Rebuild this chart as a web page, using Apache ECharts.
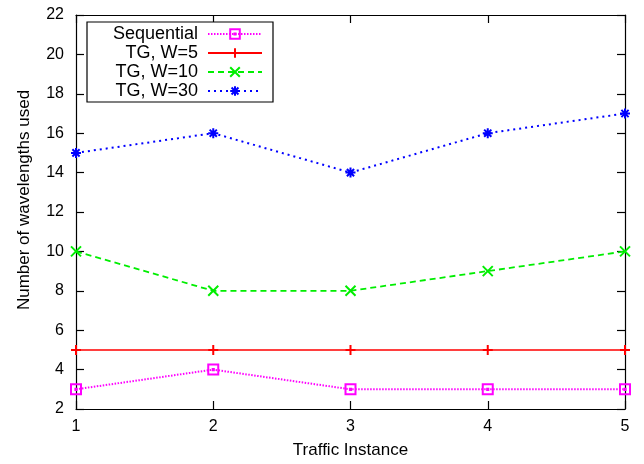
<!DOCTYPE html>
<html>
<head>
<meta charset="utf-8">
<script src="https://cdn.jsdelivr.net/npm/echarts@6/dist/echarts.min.js"></script>
<style>
html,body{margin:0;padding:0;background:#fff;}
#chart{width:644px;height:464px;}
</style>
</head>
<body>
<div id="chart"></div>
<script>
var xValues = [1, 2, 3, 4, 5];
var sequential = [3, 4, 3, 3, 3];
var tgW5 = [5, 5, 5, 5, 5];
var tgW10 = [10, 8, 8, 9, 10];
var tgW30 = [15, 16, 14, 16, 17];
var seriesNames = ['Sequential', 'TG, W=5', 'TG, W=10', 'TG, W=30'];
var xTitle = 'Traffic Instance';
var yTitle = 'Number of wavelengths used';

function pairs(vals) { return xValues.map(function (x, i) { return [x, vals[i]]; }); }

var FONT = '"Liberation Sans", Arial, Helvetica, sans-serif';
var symSquare = 'path://M-5,-5L5,-5L5,5L-5,5Z M-0.6,-0.6L0.6,-0.6L0.6,0.6L-0.6,0.6Z';
var symPlus = 'path://M0,-5L0,5M-5,0L5,0';
var symCross = 'path://M-5,-5L5,5M-5,5L5,-5';
var symStar = 'path://M0,-5L0,5M-5,0L5,0M-3.6,-3.6L3.6,3.6M-3.6,3.6L3.6,-3.6';

function mkSeries(name, vals, color, sym, dash, width) {
  return {
    name: name, type: 'line', data: pairs(vals),
    symbol: sym, symbolSize: 10, showSymbol: true,
    lineStyle: { color: color, width: width, type: dash },
    itemStyle: { color: 'transparent', borderColor: color, borderWidth: 2 },
    emphasis: { disabled: true },
    animation: false, z: 3
  };
}

var axisCommon = {
  type: 'value',
  axisLine: { show: true, onZero: false, lineStyle: { color: '#000', width: 1.2 } },
  axisTick: { show: true, inside: true, length: 8, lineStyle: { color: '#000', width: 1.2 } },
  splitLine: { show: false }
};

var chart = echarts.init(document.getElementById('chart'), null, { renderer: 'canvas' });
chart.setOption({
  backgroundColor: '#fff',
  animation: false,
  textStyle: { fontFamily: FONT },
  grid: { left: 76, right: 19, top: 15, bottom: 54, containLabel: false },
  xAxis: [
    Object.assign({}, axisCommon, {
      position: 'bottom', min: 1, max: 5, interval: 1,
      name: xTitle, nameLocation: 'middle', nameGap: 33,
      nameTextStyle: { fontSize: 17, color: '#000', fontFamily: FONT },
      axisLabel: { fontSize: 16, color: '#000', margin: 10, fontFamily: FONT }
    }),
    Object.assign({}, axisCommon, {
      position: 'top', min: 1, max: 5, interval: 1,
      axisLabel: { show: false }
    })
  ],
  yAxis: [
    Object.assign({}, axisCommon, {
      position: 'left', min: 2, max: 22, interval: 2,
      name: yTitle, nameLocation: 'middle', nameGap: 43,
      nameTextStyle: { fontSize: 17, color: '#000', fontFamily: FONT, padding: [0, 0, 0, 24] },
      axisLabel: { fontSize: 16, color: '#000', margin: 12, fontFamily: FONT }
    }),
    Object.assign({}, axisCommon, {
      position: 'right', min: 2, max: 22, interval: 2,
      axisLabel: { show: false }
    })
  ],
  legend: {
    orient: 'vertical', left: 87, top: 22,
    align: 'right',
    backgroundColor: '#fff',
    borderColor: '#000', borderWidth: 1.2, borderRadius: 0,
    padding: [3, 10, 2, 6],
    itemGap: 1, itemWidth: 54, itemHeight: 12,
    data: seriesNames,
    formatter: function (n) { return '{a|' + n + '}'; },
    textStyle: {
      rich: { a: { fontSize: 18, color: '#000', fontFamily: FONT, width: 105, align: 'right', lineHeight: 18.3, padding: [0, 5, 0, 0] } }
    },
    selectedMode: false
  },
  series: [
    mkSeries(seriesNames[0], sequential, '#ff00ff', symSquare, [1.5, 1.5], 2),
    mkSeries(seriesNames[1], tgW5, '#ff0000', symPlus, 'solid', 1.5),
    mkSeries(seriesNames[2], tgW10, '#00ee00', symCross, [6, 4], 1.8),
    mkSeries(seriesNames[3], tgW30, '#0000ff', symStar, [2, 4], 2)
  ]
});
</script>
</body>
</html>
